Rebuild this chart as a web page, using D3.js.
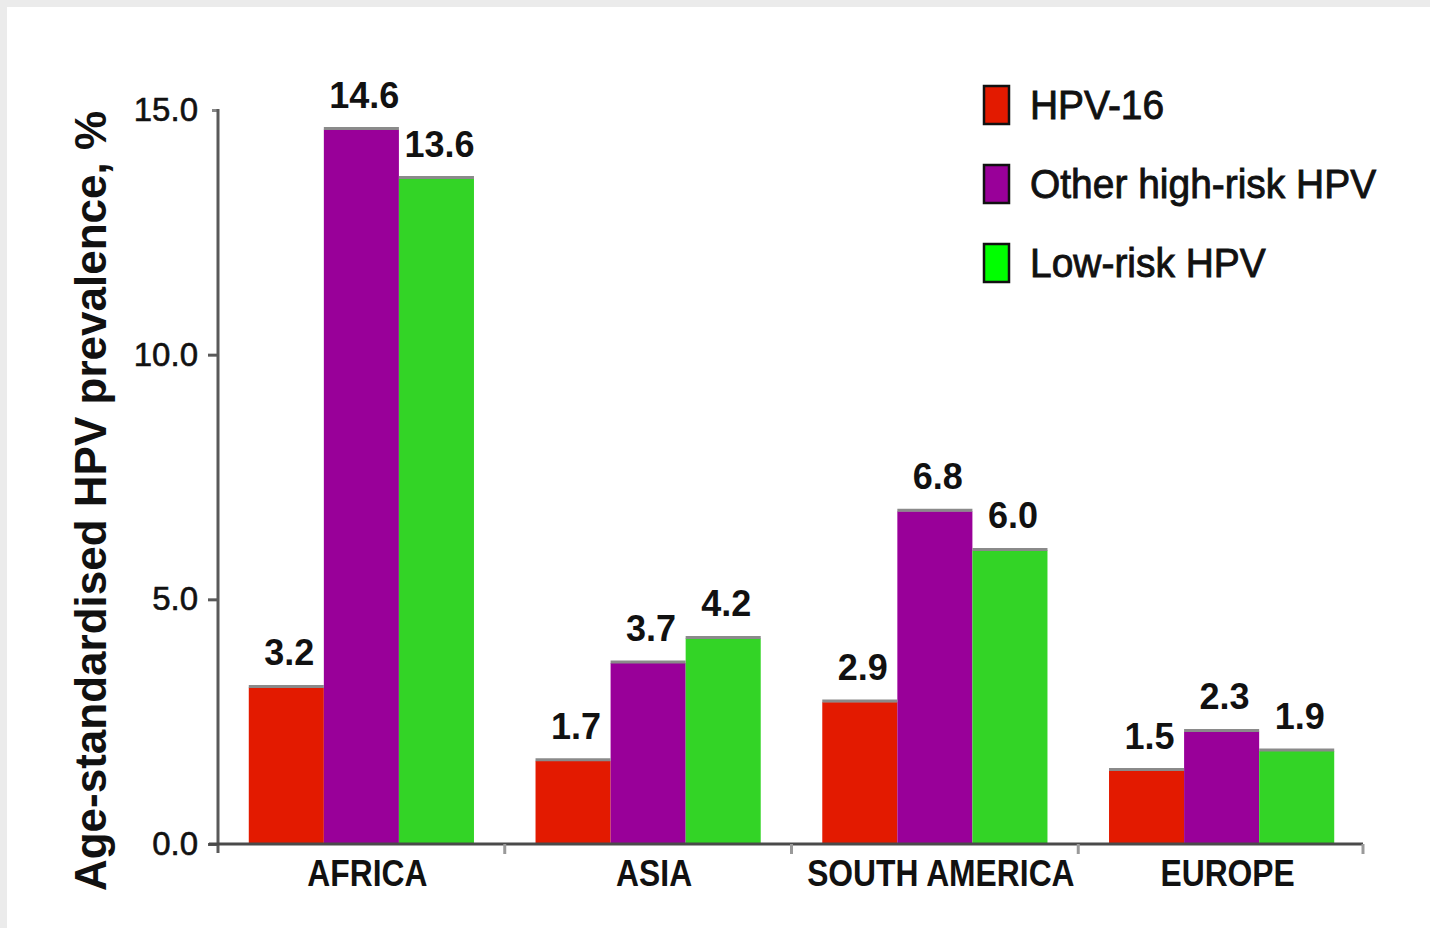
<!DOCTYPE html>
<html>
<head>
<meta charset="utf-8">
<script src="https://cdn.jsdelivr.net/npm/d3@7"></script>
<style>
  html, body { margin: 0; padding: 0; background: #ebebeb; }
  svg { display: block; }
  text { font-family: "Liberation Sans", Arial, sans-serif; fill: #111; }
</style>
</head>
<body>
<svg id="chart" width="1430" height="928"></svg>
<script>
// Age-standardised HPV prevalence by world region
const regions = ["AFRICA", "ASIA", "SOUTH AMERICA", "EUROPE"];
const seriesNames = ["HPV-16", "Other high-risk HPV", "Low-risk HPV"];
const hpv16 = [3.2, 1.7, 2.9, 1.5];
const otherHighRisk = [14.6, 3.7, 6.8, 2.3];
const lowRisk = [13.6, 4.2, 6.0, 1.9];
const yTicks = [0, 5, 10, 15];
const yTitle = "Age-standardised HPV prevalence, %";

const barColors = ["#e31a00", "#990099", "#33d426"];
const legendColors = ["#e31a00", "#990099", "#00ff00"];

const seriesValues = [hpv16, otherHighRisk, lowRisk];
const rows = regions.map((r, i) => ({
  region: r,
  values: seriesNames.map((s, k) => ({ key: s, value: seriesValues[k][i], color: barColors[k] }))
}));

const svg = d3.select("#chart");

// white panel
svg.append("rect").attr("x", 7).attr("y", 7).attr("width", 1423).attr("height", 921).attr("fill", "#ffffff");

const x0 = d3.scaleBand().domain(regions).range([218, 1365]).padding(0);
const x1 = d3.scaleBand().domain(seriesNames).range([0, x0.bandwidth()]).paddingInner(0).paddingOuter(0.41);
const y = d3.scaleLinear().domain([0, 15]).range([844, 110]);

// bars
const groups = svg.append("g").selectAll("g")
  .data(rows).join("g")
  .attr("transform", d => `translate(${x0(d.region)},0)`);

groups.selectAll("rect")
  .data(d => d.values).join("rect")
  .attr("x", d => x1(d.key))
  .attr("y", d => y(d.value))
  .attr("width", x1.bandwidth())
  .attr("height", d => y(0) - y(d.value))
  .attr("fill", d => d.color);

// thin grey edge on bar tops
groups.selectAll("line.edge")
  .data(d => d.values).join("line")
  .attr("class", "edge")
  .attr("x1", d => x1(d.key))
  .attr("x2", d => x1(d.key) + x1.bandwidth())
  .attr("y1", d => y(d.value) - 1)
  .attr("y2", d => y(d.value) - 1)
  .attr("stroke", "#8a8a8a")
  .attr("stroke-width", 3);

// value labels
groups.selectAll("text.val")
  .data(d => d.values).join("text")
  .attr("class", "val")
  .attr("x", d => x1(d.key) + x1.bandwidth() / 2 + 3)
  .attr("y", d => y(d.value) - 22)
  .attr("text-anchor", "middle")
  .attr("font-size", 36)
  .attr("font-weight", "bold")
  .text(d => d3.format(".1f")(d.value));

// y axis
const yAxis = d3.axisLeft(y).tickValues(yTicks).tickFormat(d3.format(".1f")).tickSize(10).tickPadding(10);
const gy = svg.append("g").attr("transform", "translate(218,0)").call(yAxis);
gy.select(".domain").remove();
gy.append("line").attr("x1", 0).attr("x2", 0).attr("y1", y(15) - 1).attr("y2", y(0) + 9)
  .attr("stroke", "#5a5a5a").attr("stroke-width", 3);
gy.selectAll(".tick line").attr("stroke", "#5a5a5a").attr("stroke-width", 3);
gy.selectAll(".tick").filter(d => d === 15).select("line").attr("x2", -6).attr("stroke", "#888");
gy.selectAll(".tick text")
  .attr("font-size", 33)
  .attr("font-family", "'Liberation Sans', Arial, sans-serif")
  .attr("fill", "#111")
  .attr("stroke", "#111")
  .attr("stroke-width", 0.6);

// x axis baseline with separators between regions
const gx = svg.append("g");
gx.append("line").attr("x1", 209).attr("x2", 1363).attr("y1", y(0)).attr("y2", y(0))
  .attr("stroke", "#4a4a4a").attr("stroke-width", 3);
const boundaries = regions.slice(1).map(r => x0(r)).concat([x0(regions[regions.length - 1]) + x0.bandwidth() - 2]);
gx.selectAll("line.sep").data(boundaries).join("line")
  .attr("class", "sep")
  .attr("x1", d => d).attr("x2", d => d)
  .attr("y1", y(0)).attr("y2", y(0) + 10)
  .attr("stroke", "#9a9a9a").attr("stroke-width", 3);

// region labels
gx.selectAll("text.cat").data(regions).join("text")
  .attr("class", "cat")
  .attr("transform", d => `translate(${x0(d) + x0.bandwidth() / 2 + 6},886) scale(0.86,1)`)
  .attr("text-anchor", "middle")
  .attr("font-size", 37)
  .attr("font-weight", "bold")
  .text(d => d);

// y-axis title
svg.append("text")
  .attr("transform", "translate(106,501) rotate(-90)")
  .attr("text-anchor", "middle")
  .attr("font-size", 44)
  .attr("font-weight", "bold")
  .text(yTitle);

// legend
const legend = svg.append("g").attr("transform", "translate(983,85)");
const items = legend.selectAll("g").data(seriesNames).join("g")
  .attr("transform", (d, i) => `translate(0,${i * 79})`);
items.append("rect")
  .attr("x", 1).attr("y", 1).attr("width", 25).attr("height", 38)
  .attr("fill", (d, i) => legendColors[i])
  .attr("stroke", "#111").attr("stroke-width", 2.5);
items.append("text")
  .attr("transform", "translate(47,34) scale(0.95,1)")
  .attr("font-size", 41)
  .attr("stroke", "#111")
  .attr("stroke-width", 0.9)
  .text(d => d);
</script>
</body>
</html>
